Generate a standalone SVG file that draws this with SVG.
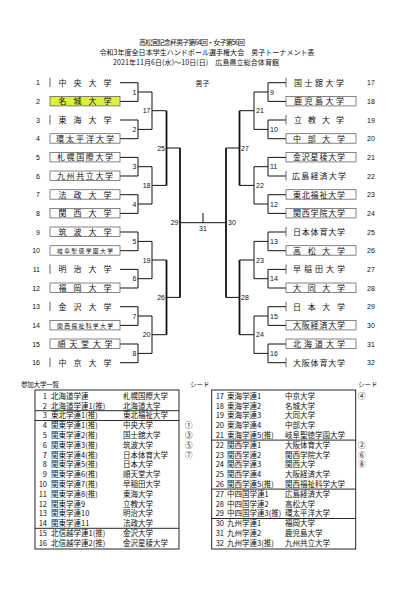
<svg xmlns="http://www.w3.org/2000/svg" width="420" height="595" viewBox="0 0 420 595">
<style>
.hd{font-family:"Noto Sans CJK JP",sans-serif;font-size:7px;fill:#111;text-anchor:middle}
.nm{font-family:"Noto Sans CJK JP",sans-serif;font-size:8px;fill:#111;text-anchor:middle}
.sm{font-size:5.8px}
.no{font-family:"Liberation Sans",Arial,sans-serif;font-size:7px;fill:#111}
.e{text-anchor:end}
.m{text-anchor:middle}
.bx{fill:#fff;stroke:#666;stroke-width:0.8}
.yl{fill:#dcf03c;stroke:#666;stroke-width:0.8}
.bar{stroke:#555;stroke-width:0.9}
.cn{fill:none;stroke:#111;stroke-width:1}
.tk{fill:none;stroke:#111;stroke-width:1.8}
.tb{font-family:"Noto Sans CJK JP",sans-serif;font-size:7.5px;fill:#111}
.tl{fill:none;stroke:#111;stroke-width:0.9}
</style>
<rect width="420" height="595" fill="#fff"/>
<g id="header">
<text class="hd" x="192" y="45" textLength="106" lengthAdjust="spacing">高松宮記念杯男子第64回・女子第56回</text>
<text class="hd" x="207" y="55" textLength="215" lengthAdjust="spacing">令和3年度全日本学生ハンドボール選手権大会　男子トーナメント表</text>
<text class="hd" x="196" y="65" textLength="166" lengthAdjust="spacing">2021年11月6日(水)～10日(日)　広島県立総合体育館</text>
<text class="hd" x="202.5" y="86">男子</text>
</g>
<g id="connectors">
<path class="cn" d="M120,82.7H138V101.4H120M138,92H152M120,120H138V138.7H120M138,129.4H152M120,157.4H138V176H120M138,166.7H152M120,194.7H138V213.4H120M138,204H152M120,232H138V250.7H120M138,241.4H152M120,269.4H138V288H120M138,278.7H152M120,306.7H138V325.4H120M138,316H152M120,344H138V362.7H120M138,353.4H152"/>
<path class="cn" d="M152,92V129.4M152,110.7H166.5M152,166.7V204M152,185.4H166.5M152,241.4V278.7M152,260H166.5M152,316V353.4M152,334.7H166.5"/>
<path class="cn" d="M166.5,148H180M166.5,297.4H180"/>
<path class="tk" d="M166.5,110.7V185.4M166.5,260V334.7"/>
<path class="tk" d="M180,148V297.4M226,148V297.4"/>
<path class="cn" d="M180,222.7H226M203,213V222.7"/>
<path class="cn" d="M286,82.7H268V101.4H286M268,92H254M286,120H268V138.7H286M268,129.4H254M286,157.4H268V176H286M268,166.7H254M286,194.7H268V213.4H286M268,204H254M286,232H268V250.7H286M268,241.4H254M286,269.4H268V288H286M268,278.7H254M286,306.7H268V325.4H286M268,316H254M286,344H268V362.7H286M268,353.4H254"/>
<path class="cn" d="M254,92V129.4M254,110.7H239.5M254,166.7V204M254,185.4H239.5M254,241.4V278.7M254,260H239.5M254,316V353.4M254,334.7H239.5"/>
<path class="cn" d="M239.5,148H226M239.5,297.4H226"/>
<path class="tk" d="M239.5,110.7V185.4M239.5,260V334.7"/>
</g>
<g id="match-labels" class="no">
<text class="e" x="136.5" y="94.5">1</text>
<text class="e" x="136.5" y="131.9">2</text>
<text class="e" x="136.5" y="169.2">3</text>
<text class="e" x="136.5" y="206.5">4</text>
<text class="e" x="136.5" y="243.9">5</text>
<text class="e" x="136.5" y="281.2">6</text>
<text class="e" x="136.5" y="318.5">7</text>
<text class="e" x="136.5" y="355.9">8</text>
<text class="e" x="150.5" y="113.2">17</text>
<text class="e" x="150.5" y="187.9">18</text>
<text class="e" x="150.5" y="262.5">19</text>
<text class="e" x="150.5" y="337.2">20</text>
<text class="e" x="165" y="150.5">25</text>
<text class="e" x="165" y="299.9">26</text>
<text class="e" x="178.5" y="225.2">29</text>
<text x="270" y="94.5">9</text>
<text x="270" y="131.9">10</text>
<text x="270" y="169.2">11</text>
<text x="270" y="206.5">12</text>
<text x="270" y="243.9">13</text>
<text x="270" y="281.2">14</text>
<text x="270" y="318.5">15</text>
<text x="270" y="355.9">16</text>
<text x="256" y="113.2">21</text>
<text x="256" y="187.9">22</text>
<text x="256" y="262.5">23</text>
<text x="256" y="337.2">24</text>
<text x="241" y="150.5">27</text>
<text x="241" y="299.9">28</text>
<text x="228" y="225.2">30</text>
<text class="m" x="203" y="231">31</text>
</g>
<g id="t1"><line class="bar" x1="50" y1="77.7" x2="50" y2="87.2"/><text class="nm" x="85" y="85.7" textLength="53" lengthAdjust="spacing">中央大学</text><text class="no e" x="40" y="85.2">1</text></g>
<g id="t2"><rect class="yl" x="50" y="96.4" width="70" height="9.5"/><text class="nm" x="85" y="104.4" textLength="53" lengthAdjust="spacing">名城大学</text><text class="no e" x="40" y="103.9">2</text></g>
<g id="t3"><line class="bar" x1="50" y1="115" x2="50" y2="124.5"/><text class="nm" x="85" y="123" textLength="53" lengthAdjust="spacing">東海大学</text><text class="no e" x="40" y="122.5">3</text></g>
<g id="t4"><rect class="bx" x="50" y="133.7" width="70" height="9.5"/><text class="nm" x="85" y="141.7" textLength="58" lengthAdjust="spacing">環太平洋大学</text><text class="no e" x="40" y="141.2">4</text></g>
<g id="t5"><rect class="bx" x="50" y="152.4" width="70" height="9.5"/><text class="nm" x="85" y="160.4" textLength="56" lengthAdjust="spacing">札幌国際大学</text><text class="no e" x="40" y="159.9">5</text></g>
<g id="t6"><rect class="bx" x="50" y="171" width="70" height="9.5"/><text class="nm" x="85" y="179" textLength="56" lengthAdjust="spacing">九州共立大学</text><text class="no e" x="40" y="178.5">6</text></g>
<g id="t7"><rect class="bx" x="50" y="189.7" width="70" height="9.5"/><text class="nm" x="85" y="197.7" textLength="53" lengthAdjust="spacing">法政大学</text><text class="no e" x="40" y="197.2">7</text></g>
<g id="t8"><rect class="bx" x="50" y="208.4" width="70" height="9.5"/><text class="nm" x="85" y="216.4" textLength="53" lengthAdjust="spacing">関西大学</text><text class="no e" x="40" y="215.9">8</text></g>
<g id="t9"><rect class="bx" x="50" y="227" width="70" height="9.5"/><text class="nm" x="85" y="235" textLength="53" lengthAdjust="spacing">筑波大学</text><text class="no e" x="40" y="234.5">9</text></g>
<g id="t10"><rect class="bx" x="50" y="245.7" width="70" height="9.5"/><text class="nm sm" x="85" y="253.1" textLength="56" lengthAdjust="spacing">岐阜聖徳学園大学</text><text class="no e" x="40" y="253.2">10</text></g>
<g id="t11"><line class="bar" x1="50" y1="264.4" x2="50" y2="273.9"/><text class="nm" x="85" y="272.4" textLength="53" lengthAdjust="spacing">明治大学</text><text class="no e" x="40" y="271.9">11</text></g>
<g id="t12"><rect class="bx" x="50" y="283" width="70" height="9.5"/><text class="nm" x="85" y="291" textLength="53" lengthAdjust="spacing">福岡大学</text><text class="no e" x="40" y="290.5">12</text></g>
<g id="t13"><line class="bar" x1="50" y1="301.7" x2="50" y2="311.2"/><text class="nm" x="85" y="309.7" textLength="53" lengthAdjust="spacing">金沢大学</text><text class="no e" x="40" y="309.2">13</text></g>
<g id="t14"><rect class="bx" x="50" y="320.4" width="70" height="9.5"/><text class="nm sm" x="85" y="327.8" textLength="56" lengthAdjust="spacing">関西福祉科学大学</text><text class="no e" x="40" y="327.9">14</text></g>
<g id="t15"><rect class="bx" x="50" y="339" width="70" height="9.5"/><text class="nm" x="85" y="347" textLength="55" lengthAdjust="spacing">順天堂大学</text><text class="no e" x="40" y="346.5">15</text></g>
<g id="t16"><line class="bar" x1="50" y1="357.7" x2="50" y2="367.2"/><text class="nm" x="85" y="365.7" textLength="53" lengthAdjust="spacing">中京大学</text><text class="no e" x="40" y="365.2">16</text></g>
<g id="t17"><line class="bar" x1="286" y1="77.7" x2="286" y2="87.2"/><text class="nm" x="319" y="85.7" textLength="50" lengthAdjust="spacing">国士舘大学</text><text class="no" x="367" y="85.2">17</text></g>
<g id="t18"><rect class="bx" x="286" y="96.4" width="70" height="9.5"/><text class="nm" x="319" y="104.4" textLength="50" lengthAdjust="spacing">鹿児島大学</text><text class="no" x="367" y="103.9">18</text></g>
<g id="t19"><line class="bar" x1="286" y1="115" x2="286" y2="124.5"/><text class="nm" x="319" y="123" textLength="50" lengthAdjust="spacing">立教大学</text><text class="no" x="367" y="122.5">19</text></g>
<g id="t20"><rect class="bx" x="286" y="133.7" width="70" height="9.5"/><text class="nm" x="319" y="141.7" textLength="52" lengthAdjust="spacing">中部大学</text><text class="no" x="367" y="141.2">20</text></g>
<g id="t21"><rect class="bx" x="286" y="152.4" width="70" height="9.5"/><text class="nm" x="319" y="160.4" textLength="52" lengthAdjust="spacing">金沢星稜大学</text><text class="no" x="367" y="159.9">21</text></g>
<g id="t22"><line class="bar" x1="286" y1="171" x2="286" y2="180.5"/><text class="nm" x="319" y="179" textLength="54" lengthAdjust="spacing">広島経済大学</text><text class="no" x="367" y="178.5">22</text></g>
<g id="t23"><rect class="bx" x="286" y="189.7" width="70" height="9.5"/><text class="nm" x="319" y="197.7" textLength="52" lengthAdjust="spacing">東北福祉大学</text><text class="no" x="367" y="197.2">23</text></g>
<g id="t24"><rect class="bx" x="286" y="208.4" width="70" height="9.5"/><text class="nm" x="319" y="216.4" textLength="52" lengthAdjust="spacing">関西学院大学</text><text class="no" x="367" y="215.9">24</text></g>
<g id="t25"><line class="bar" x1="286" y1="227" x2="286" y2="236.5"/><text class="nm" x="319" y="235" textLength="52" lengthAdjust="spacing">日本体育大学</text><text class="no" x="367" y="234.5">25</text></g>
<g id="t26"><rect class="bx" x="286" y="245.7" width="70" height="9.5"/><text class="nm" x="319" y="253.7" textLength="52" lengthAdjust="spacing">高松大学</text><text class="no" x="367" y="253.2">26</text></g>
<g id="t27"><line class="bar" x1="286" y1="264.4" x2="286" y2="273.9"/><text class="nm" x="319" y="272.4" textLength="52" lengthAdjust="spacing">早稲田大学</text><text class="no" x="367" y="271.9">27</text></g>
<g id="t28"><rect class="bx" x="286" y="283" width="70" height="9.5"/><text class="nm" x="319" y="291" textLength="52" lengthAdjust="spacing">大同大学</text><text class="no" x="367" y="290.5">28</text></g>
<g id="t29"><line class="bar" x1="286" y1="301.7" x2="286" y2="311.2"/><text class="nm" x="319" y="309.7" textLength="52" lengthAdjust="spacing">日本大学</text><text class="no" x="367" y="309.2">29</text></g>
<g id="t30"><rect class="bx" x="286" y="320.4" width="70" height="9.5"/><text class="nm" x="319" y="328.4" textLength="52" lengthAdjust="spacing">大阪経済大学</text><text class="no" x="367" y="327.9">30</text></g>
<g id="t31"><rect class="bx" x="286" y="339" width="70" height="9.5"/><text class="nm" x="319" y="347" textLength="52" lengthAdjust="spacing">北海道大学</text><text class="no" x="367" y="346.5">31</text></g>
<g id="t32"><line class="bar" x1="286" y1="357.7" x2="286" y2="367.2"/><text class="nm" x="319" y="365.7" textLength="52" lengthAdjust="spacing">大阪体育大学</text><text class="no" x="367" y="365.2">32</text></g>
<g id="list-left" class="tb">
<text x="21" y="387" font-size="6.5" textLength="38" lengthAdjust="spacing">参加大学一覧</text>
<text x="190" y="387" font-size="6.5">シード</text>
<rect class="tl" x="35" y="390" width="144" height="159"/>
<path class="tl" d="M35,410.7H179M35,420.5H179M35,528.3H179"/>
<text x="47" y="398.7" text-anchor="end">1</text><text x="51" y="398.7">北海道学連</text><text x="123" y="398.7">札幌国際大学</text>
<text x="47" y="408.5" text-anchor="end">2</text><text x="51" y="408.5">北海道学連1(推)</text><text x="123" y="408.5">北海道大学</text>
<text x="47" y="418.3" text-anchor="end">3</text><text x="51" y="418.3">東北学連1(推)</text><text x="123" y="418.3">東北福祉大学</text>
<text x="47" y="428.1" text-anchor="end">4</text><text x="51" y="428.1">関東学連1(推)</text><text x="123" y="428.1">中央大学</text><text x="185" y="428.1">①</text>
<text x="47" y="437.9" text-anchor="end">5</text><text x="51" y="437.9">関東学連2(推)</text><text x="123" y="437.9">国士舘大学</text><text x="185" y="437.9">③</text>
<text x="47" y="447.7" text-anchor="end">6</text><text x="51" y="447.7">関東学連3(推)</text><text x="123" y="447.7">筑波大学</text><text x="185" y="447.7">⑤</text>
<text x="47" y="457.5" text-anchor="end">7</text><text x="51" y="457.5">関東学連4(推)</text><text x="123" y="457.5">日本体育大学</text><text x="185" y="457.5">⑦</text>
<text x="47" y="467.3" text-anchor="end">8</text><text x="51" y="467.3">関東学連5(推)</text><text x="123" y="467.3">日本大学</text>
<text x="47" y="477.1" text-anchor="end">9</text><text x="51" y="477.1">関東学連6(推)</text><text x="123" y="477.1">順天堂大学</text>
<text x="47" y="486.9" text-anchor="end">10</text><text x="51" y="486.9">関東学連7(推)</text><text x="123" y="486.9">早稲田大学</text>
<text x="47" y="496.7" text-anchor="end">11</text><text x="51" y="496.7">関東学連8(推)</text><text x="123" y="496.7">東海大学</text>
<text x="47" y="506.5" text-anchor="end">12</text><text x="51" y="506.5">関東学連9</text><text x="123" y="506.5">立教大学</text>
<text x="47" y="516.3" text-anchor="end">13</text><text x="51" y="516.3">関東学連10</text><text x="123" y="516.3">明治大学</text>
<text x="47" y="526.1" text-anchor="end">14</text><text x="51" y="526.1">関東学連11</text><text x="123" y="526.1">法政大学</text>
<text x="47" y="535.9" text-anchor="end">15</text><text x="51" y="535.9">北信越学連1(推)</text><text x="123" y="535.9">金沢大学</text>
<text x="47" y="545.7" text-anchor="end">16</text><text x="51" y="545.7">北信越学連2(推)</text><text x="123" y="545.7">金沢星稜大学</text>
</g>
<g id="list-right" class="tb">
<text x="358" y="387" font-size="6.5">シード</text>
<rect class="tl" x="211.7" y="390" width="144" height="159"/>
<path class="tl" d="M211.7,440.1H355.7M211.7,489.1H355.7M211.7,518.5H355.7"/>
<text x="224" y="398.7" text-anchor="end">17</text><text x="227" y="398.7">東海学連1</text><text x="285" y="398.7">中京大学</text><text x="358" y="398.7">④</text>
<text x="224" y="408.5" text-anchor="end">18</text><text x="227" y="408.5">東海学連2</text><text x="285" y="408.5">名城大学</text>
<text x="224" y="418.3" text-anchor="end">19</text><text x="227" y="418.3">東海学連3</text><text x="285" y="418.3">大同大学</text>
<text x="224" y="428.1" text-anchor="end">20</text><text x="227" y="428.1">東海学連4</text><text x="285" y="428.1">中部大学</text>
<text x="224" y="437.9" text-anchor="end">21</text><text x="227" y="437.9">東海学連5(推)</text><text x="285" y="437.9">岐阜聖徳学園大学</text>
<text x="224" y="447.7" text-anchor="end">22</text><text x="227" y="447.7">関西学連1</text><text x="285" y="447.7">大阪体育大学</text><text x="358" y="447.7">②</text>
<text x="224" y="457.5" text-anchor="end">23</text><text x="227" y="457.5">関西学連2</text><text x="285" y="457.5">関西学院大学</text><text x="358" y="457.5">⑥</text>
<text x="224" y="467.3" text-anchor="end">24</text><text x="227" y="467.3">関西学連3</text><text x="285" y="467.3">関西大学</text><text x="358" y="467.3">⑧</text>
<text x="224" y="477.1" text-anchor="end">25</text><text x="227" y="477.1">関西学連4</text><text x="285" y="477.1">大阪経済大学</text>
<text x="224" y="486.9" text-anchor="end">26</text><text x="227" y="486.9">関西学連5(推)</text><text x="285" y="486.9">関西福祉科学大学</text>
<text x="224" y="496.7" text-anchor="end">27</text><text x="227" y="496.7">中四国学連1</text><text x="285" y="496.7">広島経済大学</text>
<text x="224" y="506.5" text-anchor="end">28</text><text x="227" y="506.5">中四国学連2</text><text x="285" y="506.5">高松大学</text>
<text x="224" y="516.3" text-anchor="end">29</text><text x="227" y="516.3">中四国学連3(推)</text><text x="285" y="516.3">環太平洋大学</text>
<text x="224" y="526.1" text-anchor="end">30</text><text x="227" y="526.1">九州学連1</text><text x="285" y="526.1">福岡大学</text>
<text x="224" y="535.9" text-anchor="end">31</text><text x="227" y="535.9">九州学連2</text><text x="285" y="535.9">鹿児島大学</text>
<text x="224" y="545.7" text-anchor="end">32</text><text x="227" y="545.7">九州学連3(推)</text><text x="285" y="545.7">九州共立大学</text>
</g>
</svg>
